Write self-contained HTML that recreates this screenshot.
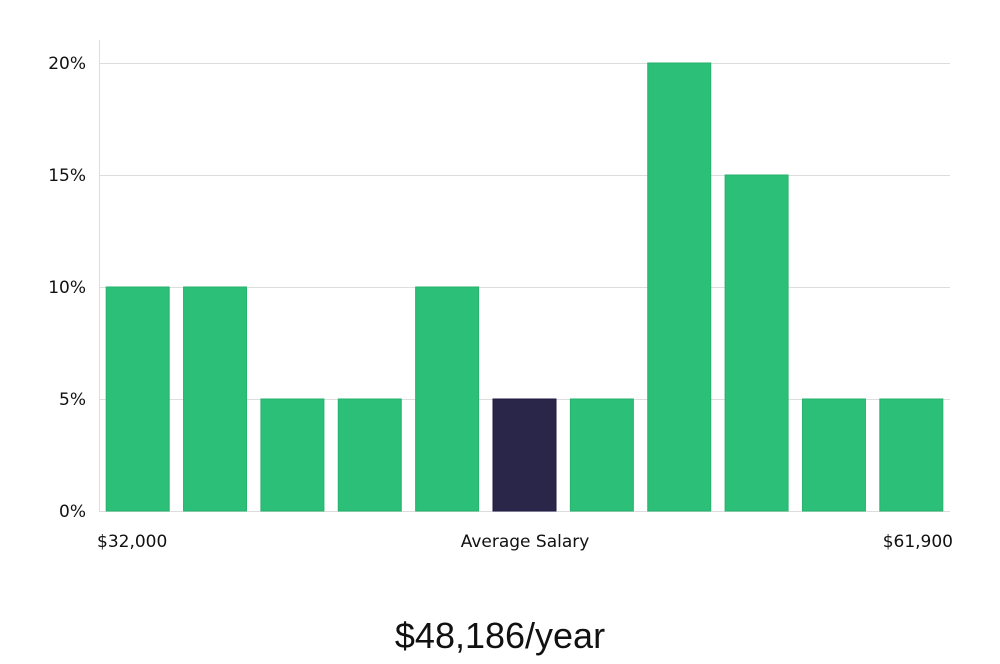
<!DOCTYPE html>
<html><head><meta charset="utf-8"><style>
body{margin:0;background:#fff;width:1000px;height:660px;overflow:hidden;font-family:"DejaVu Sans","Liberation Sans",sans-serif;}
</style></head><body>
<svg id="chart" width="1000" height="660" xmlns="http://www.w3.org/2000/svg">
<g id="grid"></g>
<g id="bars"></g>
<line x1="99.5" y1="40" x2="99.5" y2="512" stroke="#ddd" stroke-width="1"/>
<text x="97" y="547" font-size="17" fill="#111">$32,000</text>
<text x="525" y="547" font-size="17" fill="#111" text-anchor="middle">Average Salary</text>
<text x="953" y="547" font-size="17" fill="#111" text-anchor="end">$61,900</text>
<text x="500" y="648" font-size="36" fill="#111" text-anchor="middle" font-family="Liberation Sans, sans-serif">$48,186/year</text>
</svg>
<script>
const values = [10,10,5,5,10,5,5,20,15,5,5];
const highlight = [false,false,false,false,false,true,false,false,false,false,false];
const yTicks = [0,5,10,15,20];
const yTickLabels = ["0%","5%","10%","15%","20%"];
const NS="http://www.w3.org/2000/svg";
const x0=99,x1=950,yBase=511,yTop=63,yMax=20;
const y=v=>yBase-(v/yMax)*(yBase-yTop);
const band=(x1-x0)/values.length, bw=63;
const grid=document.getElementById('grid'), bars=document.getElementById('bars');
yTicks.forEach((t,i)=>{
  const l=document.createElementNS(NS,'line');
  
  
  l.setAttribute('x1',x0);l.setAttribute('x2',x1);
  l.setAttribute('y1',y(t)+0.5);l.setAttribute('y2',y(t)+0.5);
  l.setAttribute('stroke','#ddd');grid.appendChild(l);
  const tx=document.createElementNS(NS,'text');
  
  
  tx.setAttribute('x',86);tx.setAttribute('y',y(t)+6);
  tx.setAttribute('text-anchor','end');tx.setAttribute('font-size','17');tx.setAttribute('fill','#111');
  tx.textContent=yTickLabels[i];grid.appendChild(tx);
});
values.forEach((v,i)=>{
  const r=document.createElementNS(NS,'rect');
  
  
  const cx=x0+band*(i+0.5);
  r.setAttribute('x',cx-bw/2);r.setAttribute('width',bw);
  r.setAttribute('y',y(v));r.setAttribute('height',yBase-y(v));
  r.setAttribute('fill',highlight[i]?'#29264a':'#2bbf77');
  r.setAttribute('stroke',highlight[i]?'#1f1a45':'#27b26e');
  r.setAttribute('stroke-width','1');
  bars.appendChild(r);
});
</script>
</body></html>
